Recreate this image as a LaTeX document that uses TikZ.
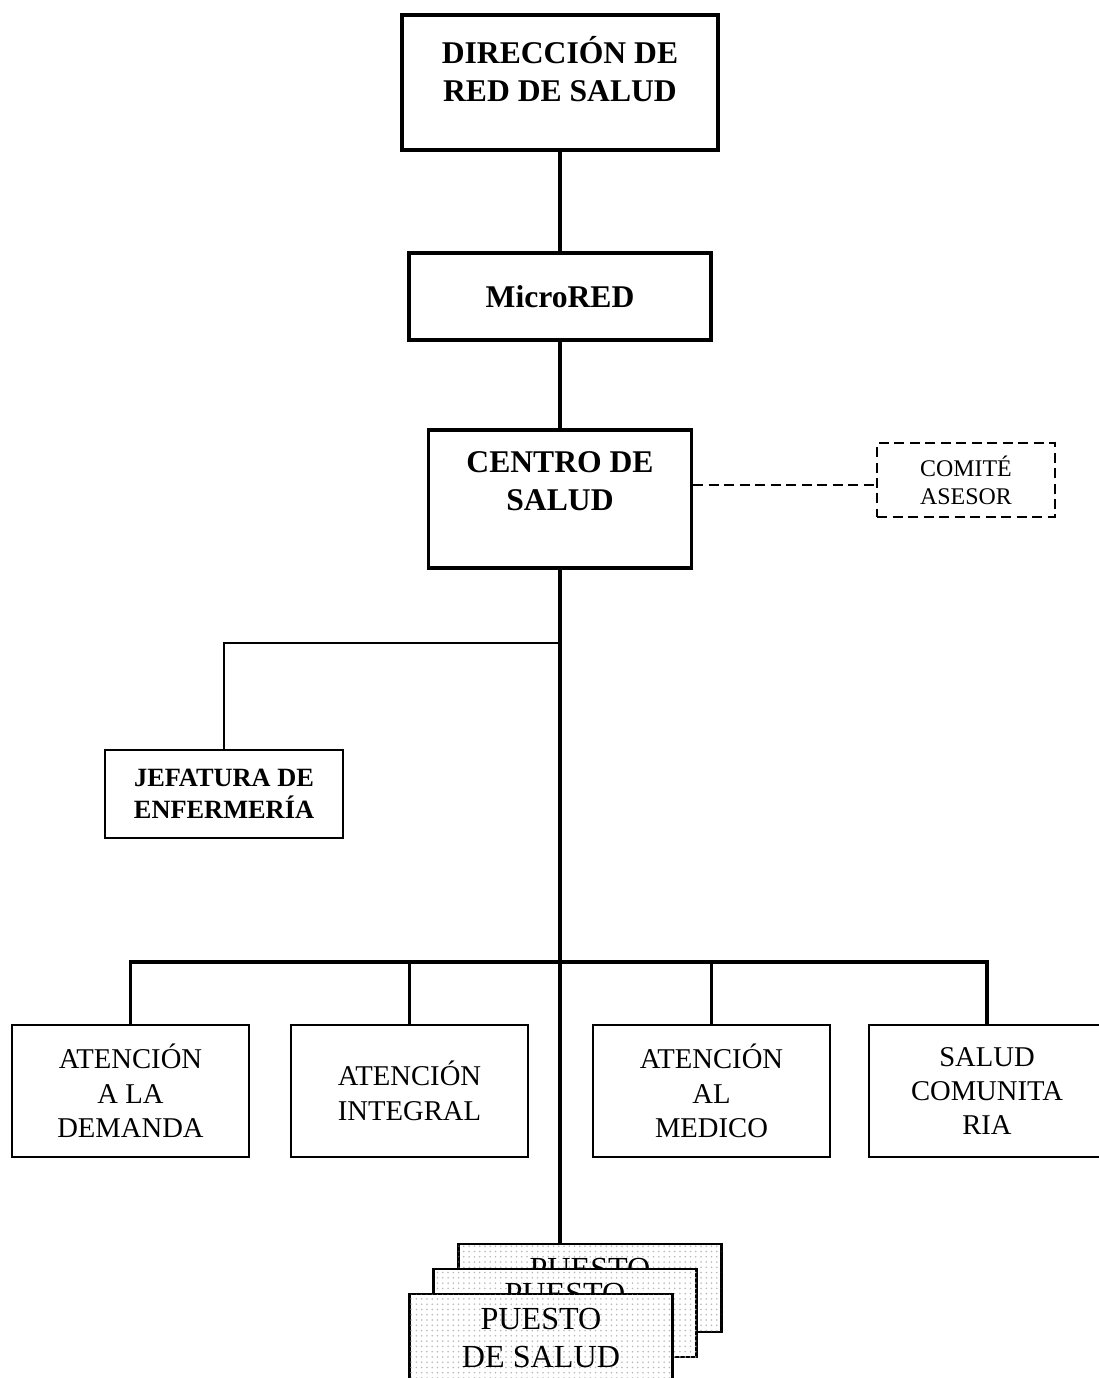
\documentclass[tikz,border=0pt]{standalone}
\usepackage{fontspec}
\setmainfont{Liberation Serif}
\usetikzlibrary{patterns}
\begin{document}
\begin{tikzpicture}
[x=0.02cm,y=-0.02cm,%
  trunkDecorate/.style={-,line width=0.08cm},%
  lineDecorate/.style={-,line width=0.035cm},%
  dashDecorate/.style={-,dash pattern=on 0.2cm off 0.11cm,line width=0.045cm},%
  topDecorate/.style={shape=rectangle,draw,align=center,font=\bfseries\fontsize{18}{21.5}\selectfont},%
  unitDecorate/.style={shape=rectangle,draw,line width=0.04cm,align=center,minimum width=4.74cm,minimum height=2.64cm,font=\fontsize{16.3}{19.6}\selectfont},%
  postDecorate/.style={shape=rectangle,draw,line width=0.045cm,align=center,minimum width=5.26cm,minimum height=1.76cm,fill=white,postaction={pattern=dots,pattern color=black!28},font=\fontsize{18.3}{21.5}\selectfont}]
\useasboundingbox (0,0) rectangle (1098,1378);
%% nodes or boxes
\node (dir) at (560,82.5) [topDecorate,line width=0.085cm,minimum width=6.32cm,minimum height=2.7cm,text depth=0.54cm] {DIRECCIÓN DE\\RED DE SALUD};
\node (micro) at (560,296.5) [topDecorate,line width=0.075cm,minimum width=6.04cm,minimum height=1.74cm] {MicroRED};
\node (centro) at (560,499) [topDecorate,line width=0.065cm,minimum width=5.26cm,minimum height=2.76cm,text depth=0.72cm] {CENTRO DE\\SALUD};
\node (comite) at (966,480) [shape=rectangle,draw,dashDecorate,align=center,minimum width=3.56cm,minimum height=1.48cm,font=\fontsize{13.6}{15.9}\selectfont] {COMITÉ\\ASESOR};
\node (jefe) at (224,794) [shape=rectangle,draw,line width=0.035cm,align=center,minimum width=4.76cm,minimum height=1.76cm,font=\bfseries\fontsize{15}{18.1}\selectfont] {JEFATURA DE\\ENFERMERÍA};
\node (demanda) at (130.5,1091) [unitDecorate] {ATENCIÓN\\A LA\\DEMANDA};
\node (integral) at (409.5,1091) [unitDecorate] {ATENCIÓN\\INTEGRAL};
\node (medico) at (711.5,1091) [unitDecorate] {ATENCIÓN\\AL\\MEDICO};
\node (comunit) at (987,1091) [unitDecorate] {SALUD\\COMUNITA\\RIA};
\node (puestoC) at (590,1288) [postDecorate] {PUESTO\\DE SALUD};
\node (puestoB) at (565,1313) [postDecorate] {PUESTO\\DE SALUD};
\node (puestoA) at (541,1338) [postDecorate] {PUESTO\\DE SALUD};
\coordinate (branch) at (560,643);
\coordinate (bus) at (560,962);
%% edges or lines
\draw[trunkDecorate] (dir.south) -- (micro.north);
\draw[trunkDecorate,line width=0.065cm] (micro.south) -- (centro.north);
\draw[dashDecorate] ([yshift=-0.1cm]comite.west -| centro.east) -- ([yshift=-0.1cm]comite.west);
\draw[trunkDecorate] (centro.south) -- (centro.south |- puestoC.north);
\draw[lineDecorate] (branch) -| (jefe.north);
\draw[trunkDecorate,line width=0.07cm] (demanda.north) -- (demanda.north |- bus) -- (comunit.north |- bus) -- (comunit.north);
\draw[trunkDecorate,line width=0.065cm] (integral.north) -- (integral.north |- bus);
\draw[trunkDecorate,line width=0.065cm] (medico.north) -- (medico.north |- bus);
\end{tikzpicture}
\end{document}
